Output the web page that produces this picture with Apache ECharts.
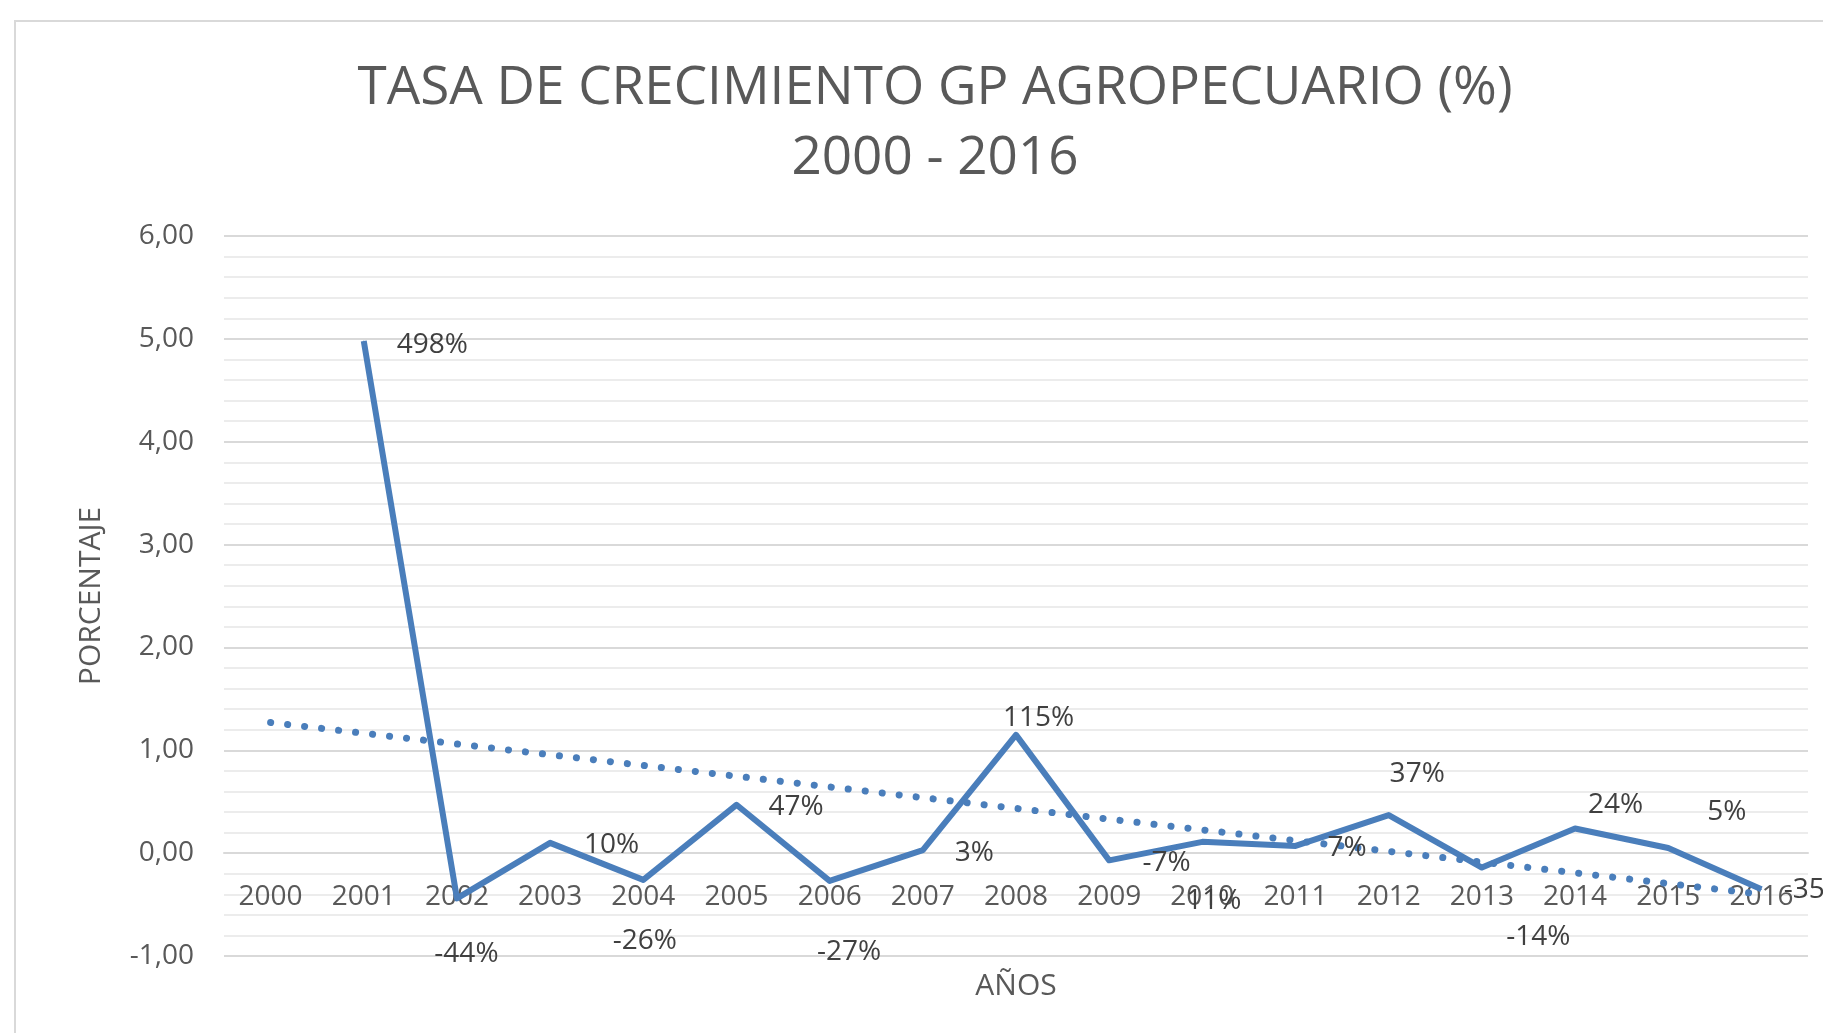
<!DOCTYPE html>
<html>
<head>
<meta charset="utf-8">
<script src="https://cdn.jsdelivr.net/npm/echarts@6/dist/echarts.min.js"></script>
<style>
  html, body { margin: 0; padding: 0; background: #fff; }
  #main { width: 1823px; height: 1033px; }
</style>
</head>
<body>
<div id="main"></div>
<script>
// years on the category axis
const years = ["2000", "2001", "2002", "2003", "2004", "2005", "2006", "2007", "2008",
  "2009", "2010", "2011", "2012", "2013", "2014", "2015", "2016"];
// growth rate (1.00 = 100%), 2000 has no value
const growth = [null, 4.98, -0.44, 0.10, -0.26, 0.47, -0.27, 0.03, 1.15,
  -0.07, 0.11, 0.07, 0.37, -0.14, 0.24, 0.05, -0.35];
// linear trendline, read at its two ends
const trend = [1.27, null, null, null, null, null, null, null, null,
  null, null, null, null, null, null, null, -0.40];
const yTicks = { min: -1, max: 6, step: 1 };

// where each data label sits, offset in px from its point
const labelOffsets = [null, [69, 5], [10, 56], [62, 3], [2, 62], [60, 3], [20, 72], [52, 3], [23, -16],
  [58, 3], [12, 60], [52, 3], [29, -41], [57, 70], [41, -23], [59, -35], [55, 1]];

const blue = "#4a7ebb";
const font = "'Open Sans', sans-serif";

const gridTop = 236;
const gridBottom = 77;
const plotHeight = 1033 - gridTop - gridBottom;
// category axis sits on the 0,00 line, as in the original
const xAxisShift = -plotHeight * (0 - yTicks.min) / (yTicks.max - yTicks.min);

var myChart = echarts.init(document.getElementById("main"));

const growthData = growth.map((v, i) => {
  if (v === null) return null;
  const off = labelOffsets[i];
  return {
    value: v,
    label: { position: [off[0], off[1]] },
  };
});

var option = {
  backgroundColor: "#fff",
  animation: false,
  title: {
    text: "TASA DE CRECIMIENTO GP AGROPECUARIO (%)\n2000 - 2016",
    left: 930,
    top: 49,
    textAlign: "center",
    textStyle: {
      fontFamily: font,
      fontSize: 53,
      fontWeight: "normal",
      color: "#595959",
      lineHeight: 70,
    },
  },
  graphic: [
    {
      type: "rect",
      shape: { x: 15, y: 21, width: 1900, height: 1100 },
      style: { fill: "none", stroke: "#d9d9d9", lineWidth: 2 },
      z: -1,
    },
  ],
  grid: {
    left: 224,
    right: 15,
    top: gridTop,
    bottom: gridBottom,
    outerBoundsMode: "none",
    containLabel: false,
  },
  xAxis: {
    type: "category",
    data: years,
    boundaryGap: true,
    offset: xAxisShift,
    name: "AÑOS",
    nameLocation: "middle",
    nameGap: 118,
    nameTextStyle: { fontFamily: font, fontSize: 30, color: "#595959" },
    axisLine: { onZero: false, lineStyle: { color: "#d9d9d9", width: 2 } },
    axisTick: { show: false },
    axisLabel: {
      fontFamily: font,
      fontSize: 28,
      color: "#595959",
      margin: 30,
    },
  },
  yAxis: {
    type: "value",
    min: yTicks.min,
    max: yTicks.max,
    interval: yTicks.step,
    name: "PORCENTAJE",
    nameLocation: "middle",
    nameRotate: 90,
    nameGap: 118,
    nameTextStyle: { fontFamily: font, fontSize: 30, color: "#595959" },
    axisLine: { show: false },
    axisTick: { show: false },
    axisLabel: {
      fontFamily: font,
      fontSize: 28,
      color: "#595959",
      margin: 30,
      formatter: (v) => v.toFixed(2).replace(".", ","),
    },
    splitLine: { lineStyle: { color: "#d9d9d9", width: 2 } },
    minorTick: { show: false, splitNumber: 5 },
    minorSplitLine: { show: true, lineStyle: { color: "#ececec", width: 2 } },
  },
  series: [
    {
      name: "Tasa",
      type: "line",
      data: growthData,
      symbol: "circle",
      symbolSize: 1,
      showSymbol: true,
      itemStyle: { color: blue },
      lineStyle: { color: blue, width: 6, join: "round" },
      label: {
        show: true,
        fontFamily: font,
        fontSize: 28,
        color: "#404040",
        align: "center",
        verticalAlign: "middle",
        formatter: (p) => Math.round(p.value * 100) + "%",
      },
      z: 3,
    },
    {
      name: "Lineal",
      type: "line",
      data: trend,
      connectNulls: true,
      showSymbol: false,
      symbol: "none",
      lineStyle: { color: blue, width: 7, type: [0.1, 17], cap: "round" },
      z: 2,
    },
  ],
};
myChart.setOption(option);
</script>
</body>
</html>
